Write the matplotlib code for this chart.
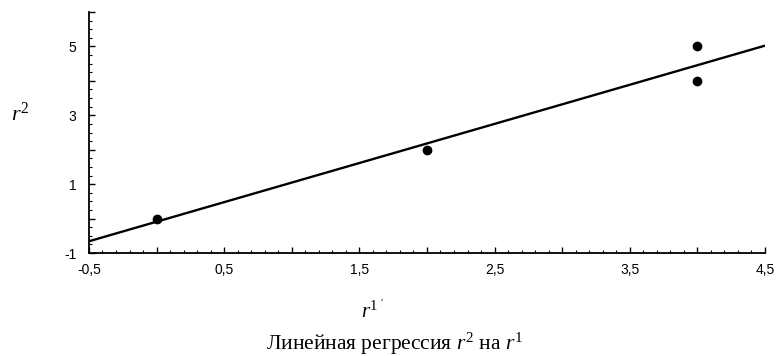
import numpy as np
import matplotlib
matplotlib.use("Agg")
import matplotlib.pyplot as plt
from matplotlib.ticker import MultipleLocator, FuncFormatter

# data
r1 = [0, 2, 4, 4]
r2 = [0, 2, 4, 5]
x_range = [-0.5, 4.5]

plt.rcParams['font.family'] = ['Liberation Sans', 'DejaVu Sans']
plt.rcParams['mathtext.fontset'] = 'custom'
plt.rcParams['mathtext.rm'] = 'Liberation Serif'
plt.rcParams['mathtext.it'] = 'Liberation Serif:italic'

fig = plt.figure(figsize=(7.77, 3.56), dpi=100)
ax = fig.add_axes([0.1145, 0.2893, 0.870, 0.677])

# regression line r2 on r1
k, b = np.polyfit(r1, r2, 1)
xs = np.array(x_range)
ax.plot(xs, k * xs + b, color='black', lw=1.7, solid_capstyle='butt')
ax.plot(r1, r2, 'o', color='black', ms=6)

ax.set_xlim(-0.5, 4.5)
ax.set_ylim(-1, 6)

for s in ['top', 'right']:
    ax.spines[s].set_visible(False)
for s in ['left', 'bottom']:
    ax.spines[s].set_linewidth(1.3)

ax.xaxis.set_major_locator(MultipleLocator(0.5, offset=0.5))
ax.xaxis.set_minor_locator(MultipleLocator(0.1))
ax.yaxis.set_major_locator(MultipleLocator(1))
ax.yaxis.set_minor_locator(MultipleLocator(0.25))


def xfmt(v, pos):
    if abs((v + 0.5) % 1) < 1e-6 or abs((v + 0.5) % 1 - 1) < 1e-6:
        return ('%.1f' % v).replace('.', ',')
    return ''


def yfmt(v, pos):
    n = int(round(v))
    if n % 2 != 0:
        return str(n)
    return ''


ax.xaxis.set_major_formatter(FuncFormatter(xfmt))
ax.yaxis.set_major_formatter(FuncFormatter(yfmt))
ax.tick_params(which='major', direction='in', length=4, width=1, labelsize=10, pad=7)
ax.tick_params(which='minor', direction='in', length=2, width=0.8)
ax.tick_params(axis='y', which='major', pad=9)

fig.text(0.026, 0.68, '$r^2$', fontsize=16, ha='center', va='center')
fig.text(0.48, 0.125, "$r^{1\\ '}$", fontsize=15, ha='center', va='center')
fig.text(0.508, 0.035, 'Линейная регрессия $r^2$ на $r^1$', fontsize=15.5,
         ha='center', va='center', family=['Liberation Serif', 'DejaVu Serif'])

plt.savefig('out.png', dpi=100)
